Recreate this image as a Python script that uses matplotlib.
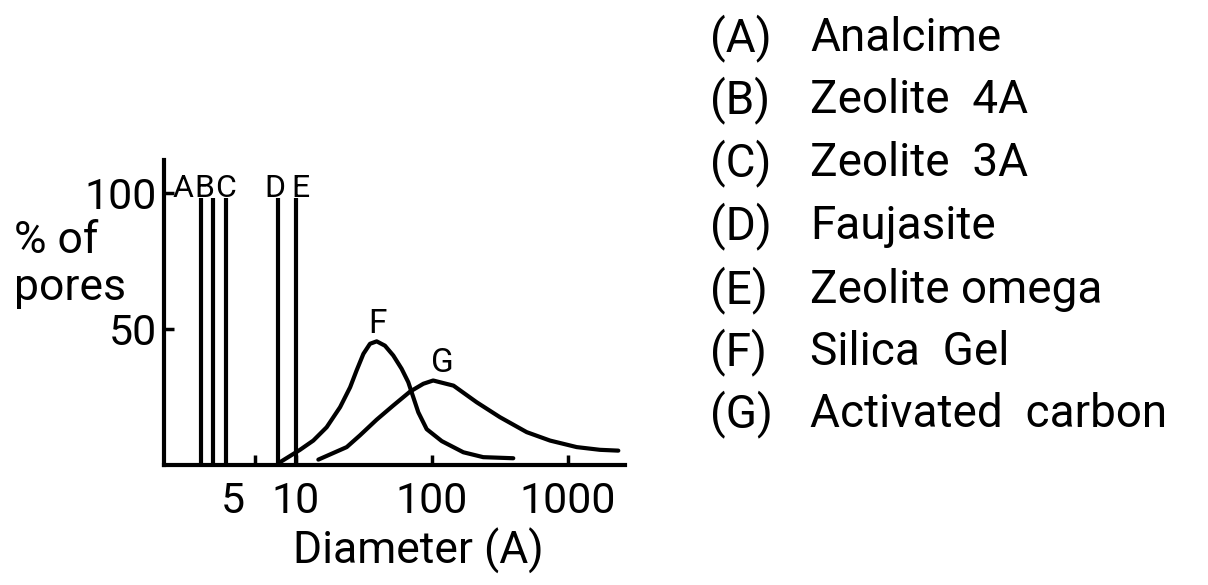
import matplotlib
matplotlib.use("Agg")
import matplotlib.pyplot as plt
from matplotlib.transforms import ScaledTranslation

plt.rcParams['font.family'] = ['Roboto', 'DejaVu Sans']

# vertical lines: uniform pore sizes of the zeolites
line_labels = ["A", "B", "C", "D", "E"]
line_pos = [2.0, 2.45, 3.05, 7.4, 10.0]
line_top = 98
# label shift from each line, in pixels
label_dx = [-18, -9, 0, -3, 4]

# pore size distributions
f_diam = [7.63, 10.7, 13.4, 16.8, 21.1, 25.0, 27.9, 31.3, 35.0, 39.2, 45.1,
          51.9, 59.8, 66.9, 72.9, 79.3, 91.4, 118, 170, 238, 396]
f_pct = [0.85, 5.4, 8.8, 13.7, 21.1, 28.4, 34.6, 40.7, 44.4, 45.3, 43.7,
         40.1, 35.2, 30.3, 24.7, 19.2, 13.0, 8.6, 4.5, 2.7, 2.3]
g_diam = [14.6, 23.6, 29.5, 39.2, 51.9, 68.9, 86.4, 102, 144, 213, 316,
          497, 738, 1159, 1718, 2344]
g_pct = [1.8, 6.4, 10.7, 16.5, 21.7, 26.8, 29.7, 30.9, 29.0, 22.9, 17.4,
         11.9, 8.8, 6.4, 5.4, 5.1]

legend_keys = ["(A)", "(B)", "(C)", "(D)", "(E)", "(F)", "(G)"]
legend_names = ["Analcime", "Zeolite  4A", "Zeolite  3A", "Faujasite",
                "Zeolite omega", "Silica  Gel", "Activated  carbon"]

xticks = [5, 10, 100, 1000]
xtick_labels = ["5", "10", "100", "1000"]
yticks = [50, 100]

W, H = 1208, 585
fig = plt.figure(figsize=(W / 100, H / 100), dpi=100)
ax = fig.add_axes([164 / W, 1 - 464.5 / H, (625 - 164) / W, (464.5 - 160) / H])

lw = 3.0
for name, x, dx in zip(line_labels, line_pos, label_dx):
    ax.plot([x, x], [0, line_top], color="black", lw=lw, solid_capstyle="butt")
    ax.annotate(name, xy=(x, line_top), xytext=(dx * 0.72, 1), textcoords="offset points",
                ha="center", va="baseline", fontsize=23)

ax.plot(f_diam, f_pct, color="black", lw=lw, solid_joinstyle="round", solid_capstyle="round")
ax.plot(g_diam, g_pct, color="black", lw=lw, solid_joinstyle="round", solid_capstyle="round")

fi = f_pct.index(max(f_pct))
ax.annotate("F", xy=(f_diam[fi], f_pct[fi]), xytext=(1 * 0.72, 8 * 0.72),
            textcoords="offset points", ha="center", va="baseline", fontsize=24)
gi = g_pct.index(max(g_pct))
ax.annotate("G", xy=(g_diam[gi], g_pct[gi]), xytext=(9 * 0.72, 8 * 0.72),
            textcoords="offset points", ha="center", va="baseline", fontsize=24)

ax.set_xscale("log")
ax.set_xlim(1.07, 2625)
ax.set_ylim(0, 112)
ax.minorticks_off()
ax.set_xticks(xticks)
ax.set_xticklabels(xtick_labels)
ax.set_yticks(yticks)
ax.set_yticklabels([str(v) for v in yticks])
ax.tick_params(axis="both", direction="in", length=7, width=2.5, labelsize=31, pad=12)
ax.tick_params(axis="y", pad=5)

# pull the "5" label away from "10"
lab5 = ax.get_xticklabels()[0]
lab5.set_transform(lab5.get_transform() + ScaledTranslation(-0.22, 0, fig.dpi_scale_trans))

for side in ("top", "right"):
    ax.spines[side].set_visible(False)
for side in ("left", "bottom"):
    ax.spines[side].set_linewidth(3)

ax.set_xlabel("Diameter (A)", fontsize=32)
ax.xaxis.set_label_coords((418 - 164) / (625 - 164), -0.21)
fig.text(14 / W, 1 - 220 / H, "% of\npores", ha="left", va="top", fontsize=32,
         linespacing=1.15)

row_y = [38, 100, 163, 226, 290, 352, 414]
for key, name, y in zip(legend_keys, legend_names, row_y):
    fig.text(710 / W, 1 - y / H, key, ha="left", va="center", fontsize=33)
    fig.text(810 / W, 1 - y / H, name, ha="left", va="center", fontsize=33)

fig.savefig("out.png", dpi=100)
